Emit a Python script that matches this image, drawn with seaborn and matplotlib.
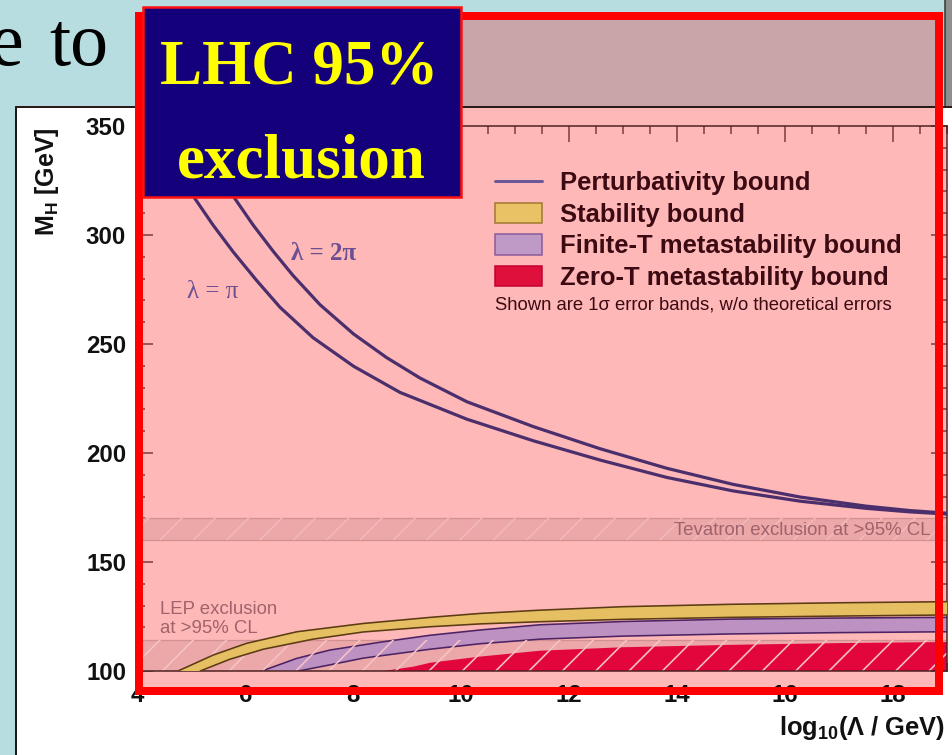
import numpy as np
import pandas as pd
import matplotlib
matplotlib.use("Agg")
import matplotlib.pyplot as plt
import seaborn as sns
from matplotlib.patches import Rectangle, Patch
from matplotlib.lines import Line2D
from matplotlib.ticker import MultipleLocator

# ---------------- data ----------------
# Perturbativity bound, lambda = pi
pert_pi_x = [4.98, 5.07, 5.41, 5.78, 6.22, 6.65, 7.26, 8.01, 8.87, 10.11, 11.34, 12.57, 13.81, 15.04, 16.28, 17.51, 18.31, 19.0]
pert_pi_y = [320, 316.8, 304.5, 292.3, 279.0, 266.8, 252.9, 239.8, 227.8, 215.5, 205.6, 196.8, 188.8, 182.6, 177.9, 174.6, 173.0, 172.0]
# Perturbativity bound, lambda = 2 pi
pert_2pi_x = [5.76, 5.81, 6.15, 6.52, 6.89, 7.39, 8.01, 8.62, 9.24, 10.11, 11.34, 12.57, 13.81, 15.04, 16.28, 17.51, 18.31, 19.0]
pert_2pi_y = [320, 316.8, 304.6, 292.6, 281.4, 268.0, 254.6, 243.8, 234.4, 223.5, 212.1, 202.0, 193.0, 185.6, 179.8, 175.6, 173.6, 172.4]

# Stability band
stab_up_x = [4.76, 5.41, 6.03, 6.96, 8.19, 9.43, 10.35, 11.46, 13.0, 15.0, 17.0, 19.0]
stab_up_y = [100, 107.3, 112.7, 118.0, 121.8, 124.6, 126.4, 127.9, 129.5, 130.6, 131.3, 131.8]
stab_lo_x = [5.17, 5.72, 6.34, 7.26, 8.19, 9.43, 10.35, 11.46, 13.0, 15.0, 17.0, 19.0]
stab_lo_y = [100, 105.4, 110.0, 114.6, 117.9, 120.3, 121.6, 122.6, 123.7, 124.6, 125.2, 125.7]

# Finite-T metastability band
fin_up_x = [6.31, 6.96, 7.57, 8.50, 9.43, 10.35, 11.46, 13.0, 15.0, 17.0, 19.0]
fin_up_y = [100, 105.8, 109.6, 113.2, 116.4, 118.8, 121.2, 122.7, 123.8, 124.3, 124.6]
fin_lo_x = [6.99, 7.57, 8.19, 9.43, 10.35, 11.46, 13.0, 15.0, 17.0, 19.0]
fin_lo_y = [100, 102.8, 105.9, 110.0, 112.5, 114.6, 116.0, 117.0, 117.6, 118.0]

# Zero-T metastability band (upper edge; lower edge is below the axis)
zero_up_x = [8.56, 9.12, 9.43, 10.35, 11.46, 13.0, 15.0, 17.0, 19.0]
zero_up_y = [100, 102.0, 103.8, 106.6, 109.3, 110.9, 112.0, 112.8, 113.3]

# Exclusion bands [GeV]
lep_band = [100, 114.4]
tev_band = [160, 170]

x_ticks = [4, 6, 8, 10, 12, 14, 16, 18]
y_ticks = [100, 150, 200, 250, 300, 350]
legend_labels = ["Perturbativity bound", "Stability bound",
                 "Finite-T metastability bound", "Zero-T metastability bound"]

# ---------------- figure setup ----------------
DPI = 200
W, H = 953, 755


def pt(p):
    return p * 72.0 / DPI


def fx(p):
    return p / W


def fy(p):
    return 1 - p / H


sns.set_theme(style="ticks")
plt.rcParams["font.family"] = ["Liberation Sans", "DejaVu Sans"]
plt.rcParams["mathtext.fontset"] = "custom"
plt.rcParams["mathtext.rm"] = "Liberation Sans"
plt.rcParams["mathtext.bf"] = "Liberation Sans:bold"
plt.rcParams["mathtext.it"] = "Liberation Sans:italic"
plt.rcParams["hatch.linewidth"] = pt(1.6)

fig = plt.figure(figsize=(W / DPI, H / DPI), dpi=DPI)
fig.patch.set_facecolor("#b8dde0")


def frect(x0, y0, x1, y1, **kw):
    r = Rectangle((fx(x0), fy(y1)), (x1 - x0) / W, (y1 - y0) / H,
                  transform=fig.transFigure, **kw)
    fig.add_artist(r)
    return r


# white chart panel of the slide
frect(16, 107, 970, 770, facecolor="white", edgecolor="none", zorder=-4)
frect(945, -5, 970, 107, facecolor="#8e8e8e", edgecolor="#333333", lw=pt(1.5), zorder=-3)
# pink highlighted area
frect(139, 16, 939, 107, facecolor="#c9a4a8", edgecolor="none", zorder=-2)
frect(139, 107, 939, 691, facecolor="#ffb8b8", edgecolor="none", zorder=-2)
fig.add_artist(Line2D([fx(16), fx(16)], [fy(107), fy(760)], transform=fig.transFigure,
                      color="#1a1a1a", lw=pt(2), zorder=-1))
fig.add_artist(Line2D([fx(16), fx(953)], [fy(107), fy(107)], transform=fig.transFigure,
                      color="#2a1a1a", lw=pt(2), zorder=-1))

# ---------------- axes ----------------
ax = fig.add_axes([fx(137), fy(671), 810 / W, 545 / H])
ax.set_facecolor("#ffb8b8")
ax.set_xlim(4, 19)
ax.set_ylim(100, 350)

# exclusion bands
for lo, hi in (lep_band, tev_band):
    ax.axhspan(lo, hi, facecolor="#eca7a8", edgecolor="none", zorder=1)
    ax.axhline(lo, color="#d39092", lw=pt(1.3), zorder=1.1)
    ax.axhline(hi, color="#d39092", lw=pt(1.3), zorder=1.1)

# finite-T band
poly_x = fin_up_x + fin_lo_x[::-1]
poly_y = fin_up_y + fin_lo_y[::-1]
ax.fill(poly_x, poly_y, facecolor="#be91c3", edgecolor="none", zorder=2)
ax.plot(fin_up_x, fin_up_y, color="#4c2464", lw=pt(1.6), zorder=2.2)
ax.plot(fin_lo_x, fin_lo_y, color="#4c2464", lw=pt(1.6), zorder=2.2)

# zero-T band
ax.fill_between(zero_up_x, 100, zero_up_y, facecolor="#e2063c", edgecolor="none", zorder=2)

# LEP / Tevatron hatching
ax.axhspan(*lep_band, fill=False, hatch="//", edgecolor="#f6c3c6", lw=0, zorder=2.5)
ax.axhspan(*tev_band, fill=False, hatch="//", edgecolor="#f2b8ba", lw=0, zorder=2.5)

# stability band
poly_x = stab_up_x + stab_lo_x[::-1]
poly_y = stab_up_y + stab_lo_y[::-1]
ax.fill(poly_x, poly_y, facecolor="#e7bf63", edgecolor="none", zorder=3)
ax.plot(stab_up_x, stab_up_y, color="#5c3c14", lw=pt(1.6), zorder=3.2)
ax.plot(stab_lo_x, stab_lo_y, color="#5c3c14", lw=pt(1.6), zorder=3.2)

# perturbativity bounds
df_pert = pd.concat([
    pd.DataFrame({"x": pert_pi_x, "y": pert_pi_y, "curve": "pi"}),
    pd.DataFrame({"x": pert_2pi_x, "y": pert_2pi_y, "curve": "2pi"}),
])
sns.lineplot(data=df_pert, x="x", y="y", units="curve", estimator=None, sort=False,
             color="#4a2f6c", lw=pt(3.2), ax=ax, legend=False, zorder=4)

# in-plot labels
ax.text(5.41, 273.9, "λ = π", family="Liberation Serif", size=pt(25), color="#6b4f92",
        ha="center", va="center", zorder=5)
ax.text(7.46, 291.3, "λ = 2π", family="Liberation Serif", weight="bold", size=pt(25),
        color="#6b4f92", ha="center", va="center", zorder=5)
ax.text(18.70, 164.4, "Tevatron exclusion at >95% CL", size=pt(18.6), color="#a0636b",
        ha="right", va="center", zorder=5)
ax.text(4.43, 128.0, "LEP exclusion", size=pt(18.6), color="#a0636b",
        ha="left", va="center", zorder=5)
ax.text(4.43, 119.6, "at >95% CL", size=pt(18.6), color="#a0636b",
        ha="left", va="center", zorder=5)

# ticks / spines
ax.set_xticks(x_ticks)
ax.set_yticks(y_ticks)
ax.xaxis.set_minor_locator(MultipleLocator(0.5))
ax.yaxis.set_minor_locator(MultipleLocator(10))
ax.tick_params(which="both", direction="in", top=True, right=True, color="#7a3636",
               width=pt(1.5), labelcolor="#111111", labelsize=pt(24))
ax.tick_params(which="major", length=pt(16))
ax.tick_params(which="minor", length=pt(8))
ax.tick_params(axis="x", pad=pt(13))
ax.tick_params(axis="y", pad=pt(11))
for lbl in ax.get_xticklabels() + ax.get_yticklabels():
    lbl.set_fontweight("bold")
for s in ax.spines.values():
    s.set_color("#4a2020")
    s.set_linewidth(pt(1.5))
ax.set_xlabel("")
ax.set_ylabel("")

# legend
handles = [
    Line2D([], [], color="#6c5898", lw=pt(3)),
    Patch(facecolor="#e8c264", edgecolor="#a07830", lw=pt(1.5)),
    Patch(facecolor="#c09ac6", edgecolor="#8a5a9a", lw=pt(1.5)),
    Patch(facecolor="#e0103c", edgecolor="#c00030", lw=pt(1.5)),
]
fs = 25.6
leg = ax.legend(handles, legend_labels, loc="upper left",
                bbox_to_anchor=(fx(495), fy(171)), bbox_transform=fig.transFigure,
                frameon=False, prop={"family": "Liberation Sans", "weight": "bold", "size": pt(fs)},
                handlelength=47 / fs, handleheight=22 / fs, handletextpad=(560 - 542) / fs,
                labelspacing=0.29, borderpad=0, borderaxespad=0, labelcolor="#3c0a12")
leg.set_zorder(6)
ax.text(fx(495), fy(305), "Shown are 1σ error bands, w/o theoretical errors",
        transform=fig.transFigure, size=pt(18.5), color="#3c0a12", ha="left", va="center", zorder=6)

# axis titles
fig.text(fx(47), fy(127), r"$\mathbf{M_H}$ [GeV]", rotation=90, ha="center", va="top",
         weight="bold", size=pt(25), color="#111111")
fig.text(fx(945), fy(735), r"log$_{\mathbf{10}}$(Λ / GeV)", ha="right", va="baseline",
         weight="bold", size=pt(25.5), color="#111111")

# ---------------- slide overlays ----------------
frect(139, 16, 939, 691, fill=False, edgecolor="#ff0000", lw=pt(8), zorder=5)
frect(143, 7, 461, 197, facecolor="#14007a", edgecolor="#ff1010", lw=pt(2.5), zorder=6)
fig.text(fx(299), fy(83), "LHC 95%", ha="center", va="baseline", family="Liberation Serif",
         weight="bold", size=pt(63), color="#ffff00", zorder=7)
fig.text(fx(301), fy(177), "exclusion", ha="center", va="baseline", family="Liberation Serif",
         weight="bold", size=pt(63), color="#ffff00", zorder=7)
fig.text(fx(24), fy(65), "e", ha="right", va="baseline", family="Liberation Serif",
         size=pt(76), color="black", zorder=1)
fig.text(fx(108), fy(65), "to", ha="right", va="baseline", family="Liberation Serif",
         size=pt(76), color="black", zorder=1)

fig.savefig("out.png", dpi=DPI, facecolor=fig.get_facecolor())
